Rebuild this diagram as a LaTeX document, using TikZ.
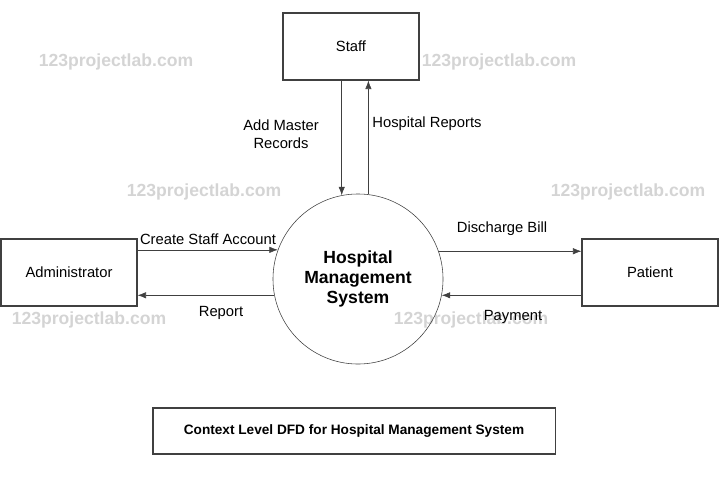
\documentclass[tikz,border=0pt]{standalone}
\usepackage{fontspec}
\setmainfont{Liberation Sans}
\usetikzlibrary{arrows.meta,positioning,calc}

\begin{document}
\begin{tikzpicture}[x=0.025cm, y=-0.025cm, font=\fontsize{10.5}{12.5}\selectfont,
  entity/.style={draw=black!75, thick, minimum width=3.4cm, minimum height=1.675cm, inner sep=0pt},
  process/.style={circle, draw=black!75, minimum size=4.25cm, inner sep=0pt, align=center,
    font=\fontsize{12.5}{14.3}\selectfont\bfseries},
  flow/.style={draw=black!75, -{Latex[length=6pt,width=4.5pt]}},
  wmark/.style={text=black!17, font=\fontsize{12.5}{14}\selectfont\bfseries}]
\useasboundingbox (0,0) rectangle (720,480);
% watermarks
\foreach \x/\y in {116/62,499/62,204/192,628/192,89/320,471/320}{\node[wmark] at (\x,\y) {123projectlab.com};}
% entities and process
\node[entity] (staff) at (351,46.5) {Staff};
\node[entity] (admin) at (69,272.5) {Administrator};
\node[entity] (patient) at (650,272.5) {Patient};
\node[process] (hms) at (358,279) {Hospital\\Management\\System};
\node[draw=black!75, thick, minimum width=10.05cm, minimum height=1.15cm,
  font=\fontsize{9.7}{12}\selectfont\bfseries] (caption) at (354,431)
  {Context Level DFD for Hospital Management System};
% flows
\draw[flow] (staff.south -| hms.101.5) -- (hms.101.5);
\draw[flow] (hms.83) -- (staff.south -| hms.83);
\draw[flow] (admin.east |- hms.160.8) -- (hms.160.8);
\draw[flow] (hms.191.5) -- (admin.east |- hms.191.5);
\draw[flow] (hms.19.2) -- (patient.west |- hms.19.2);
\draw[flow] (patient.west |- hms.-11.5) -- (hms.-11.5);
% flow labels
\node[align=center] (lblmaster) at (281,134) {Add Master\\Records};
\node (lblhrep) at (427,124) {Hospital Reports};
\node (lblcreate) at (208,239) {Create Staff Account};
\node (lblreport) at (221,313) {Report};
\node (lblbill) at (502,229) {Discharge Bill};
\node (lblpay) at (513,317) {Payment};
\end{tikzpicture}
\end{document}
